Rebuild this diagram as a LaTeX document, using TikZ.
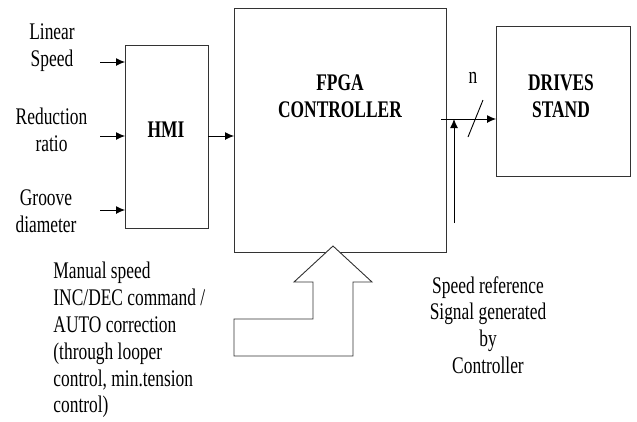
\documentclass[tikz,border=0pt]{standalone}
\usepackage{fontspec}
\setmainfont{Liberation Serif}
\usetikzlibrary{arrows.meta}

\begin{document}
\begin{tikzpicture}[x = 1pt, y = -1pt, line width = 0.9pt,
                        block/.style = {rectangle, draw = black!80, inner sep = 0pt, outer sep = 0pt},
                        arr/.style = {-{Latex[length = 9pt, width = 8pt]}},
                        txt/.style = {font = \fontsize{17.4}{19.6}\selectfont, align = center, inner sep = 0pt, yscale = 1.37},
                        btxt/.style = {font = \fontsize{17.4}{20.1}\selectfont\bfseries, align = center, inner sep = 0pt, yscale = 1.37}]
      \useasboundingbox (0, 0) rectangle (637, 421);

      % blocks
      \node [block, minimum width = 83pt, minimum height = 183pt] (hmi) at (166.5, 136.5){};
      \node [block, minimum width = 212pt, minimum height = 244pt] (fpga) at (340, 130){};
      \node [block, minimum width = 134pt, minimum height = 150pt] (drv) at (563, 101){};
      \node [btxt] (hmit) at (166, 130){HMI};
      \node [btxt] (fpgat) at (340, 96){FPGA\\CONTROLLER};
      \node [btxt] (drvt) at (561, 96){DRIVES\\STAND};

      % inputs of the HMI
      \node [txt] (lin) at (52, 47.5){Linear\\Speed};
      \node [txt] (red) at (51.5, 130){Reduction\\ratio};
      \node [txt] (grv) at (46, 211){Groove\\diameter};
      \coordinate (in1) at (100, 62);
      \coordinate (in2) at (100, 136);
      \coordinate (in3) at (100, 210);
      \draw [arr] (in1) -- (in1 -| hmi.west);
      \draw [arr] (in2) -- (in2 -| hmi.west);
      \draw [arr] (in3) -- (in3 -| hmi.west);
      \draw [arr] (in2 -| hmi.east) -- (in2 -| fpga.west);

      % output to the drives
      \coordinate (out) at (441, 119);
      \coordinate (jn) at (454, 119);
      \coordinate (sref) at (454, 223);
      \draw [arr] (out) -- (out -| drv.west);
      \draw [arr] (sref) -- (jn);
      \draw (468, 137) -- (483, 100);
      \node [txt] (n) at (473, 78){n};
      \node [txt] (srt) at (488, 325){Speed reference\\Signal generated\\by\\Controller};

      % manual / auto command
      \draw [draw = black!80, fill = white] (333, 246) -- (372, 282) -- (353, 282) -- (353, 356) -- (234, 356)
            -- (234, 319) -- (313, 319) -- (313, 282) -- (294, 282) -- cycle;
      \node [txt, align = left, anchor = west] (man) at (53, 340){Manual speed\\INC/DEC command /\\AUTO correction\\(through looper\\control, min.tension\\control)};
\end{tikzpicture}
\end{document}
